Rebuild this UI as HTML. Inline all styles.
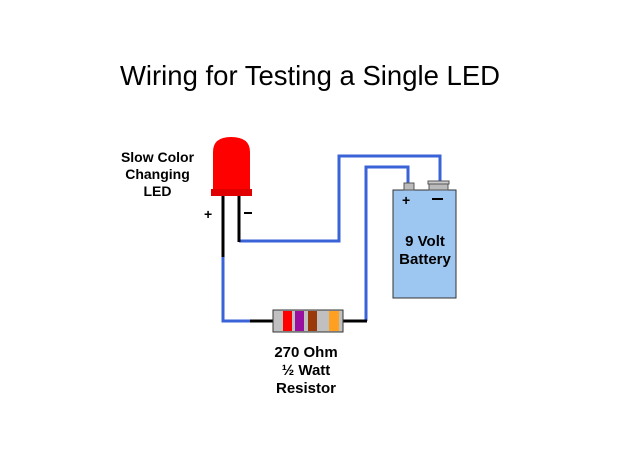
<!DOCTYPE html>
<html><head><style>
body{margin:0;width:620px;height:465px;background:#fff;position:relative;overflow:hidden;font-family:"Liberation Sans",Arial,sans-serif}
.t{position:absolute;text-align:center;font-weight:bold;font-size:14px;line-height:17px;color:#000}
</style></head><body>
<div style="position:absolute;left:0;width:620px;top:60px;text-align:center;font-size:27.5px;">Wiring for Testing a Single LED</div>
<svg width="620" height="465" style="position:absolute;left:0;top:0">
<g fill="none" stroke-width="3">
<polyline points="223,256 223,321 252,321" stroke="#3a63d8"/>
<polyline points="239,241 339,241 339,156 440,156 440,182" stroke="#3a63d8"/>
<polyline points="366,321 366,167 408,167 408,184" stroke="#3a63d8"/>
<line x1="223" y1="196" x2="223" y2="257" stroke="#000"/>
<line x1="239" y1="196" x2="239" y2="242" stroke="#000"/>
<line x1="250" y1="321" x2="274" y2="321" stroke="#000"/>
<line x1="343" y1="321" x2="367" y2="321" stroke="#000"/>
<line x1="244" y1="213" x2="252" y2="213" stroke="#000" stroke-width="2"/>
</g>
<path d="M213,190 L213,152 Q213,137 231,137 Q250,137 250,152 L250,190 Z" fill="#f00"/>
<rect x="211" y="189" width="41" height="7" fill="#e00000"/>
<rect x="273" y="310" width="70" height="22" fill="#c0c0c0" stroke="#333" stroke-width="1"/>
<rect x="283" y="311" width="9" height="20" fill="#f00"/>
<rect x="295" y="311" width="9" height="20" fill="#9b0fa0"/>
<rect x="308" y="311" width="9" height="20" fill="#9a3a0a"/>
<rect x="329" y="311" width="10" height="20" fill="#ffa020"/>
<rect x="393" y="190" width="63" height="108" fill="#9dc6f0" stroke="#333" stroke-width="1"/>
<rect x="404" y="183" width="10" height="7" fill="#bbb" stroke="#555" stroke-width="1"/>
<rect x="429" y="183" width="19" height="7" fill="#bbb" stroke="#555" stroke-width="1"/>
<rect x="428" y="181" width="21" height="3" fill="#ccc" stroke="#555" stroke-width="1"/>
<line x1="432" y1="199" x2="443" y2="199" stroke="#000" stroke-width="2"/>
</svg>
<div class="t" style="left:100px;width:115px;top:149px">Slow Color<br>Changing<br>LED</div>
<div class="t" style="left:204px;top:206px">+</div>
<div class="t" style="left:402px;top:192px">+</div>
<div class="t" style="left:393px;width:64px;top:233px;font-size:15px;line-height:18px">9 Volt<br>Battery</div>
<div class="t" style="left:250px;width:112px;top:344px;font-size:15px;line-height:18px">270 Ohm<br>½ Watt<br>Resistor</div>
</body></html>
